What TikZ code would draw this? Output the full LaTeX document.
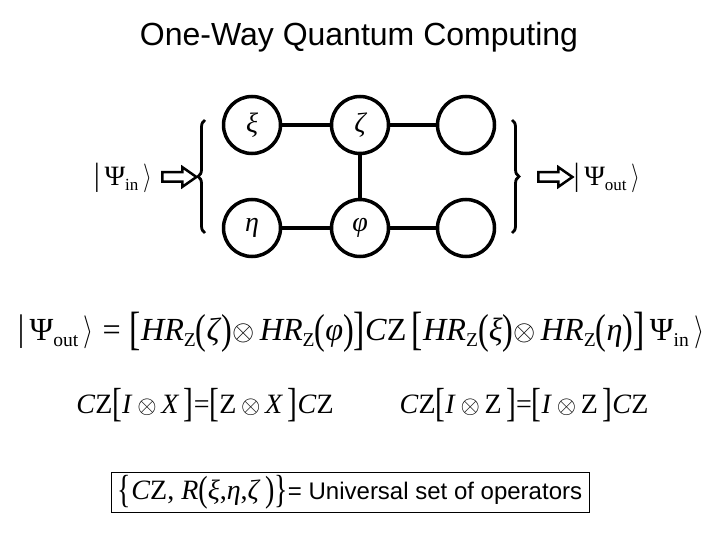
\documentclass[tikz,border=0pt]{standalone}
\usepackage{fontspec}
\setmainfont{Liberation Serif}
\newfontfamily\sansfnt{Liberation Sans}
\usepackage{graphicx}
\usetikzlibrary{shapes.arrows,decorations.pathreplacing}

\newcommand{\fs}[1]{\fontsize{#1}{#1}\selectfont}
\newcommand{\kbar}{\scalebox{1}[1.15]{|}}
\newcommand{\kang}{\scalebox{0.9}[1.15]{$\rangle$}}
\newcommand{\sbt}[1]{\raisebox{-5pt}{\fs{17}#1}}
\newcommand{\LB}{\raisebox{-3pt}{\scalebox{1.05}[1.45]{[}}}
\newcommand{\RB}{\raisebox{-3pt}{\scalebox{1.05}[1.45]{]}}}
\newcommand{\LP}{\raisebox{-2pt}{\scalebox{1}[1.3]{(}}}
\newcommand{\RP}{\raisebox{-2pt}{\scalebox{1}[1.3]{)}}}
\newcommand{\Ot}{$\otimes$}
\newcommand{\LC}{\raisebox{-3pt}{\scalebox{1}[1.4]{\{}}}
\newcommand{\RC}{\raisebox{-3pt}{\scalebox{1}[1.4]{\}}}}

\tikzset{
  qb/.style={circle, draw, line width=3.5pt, minimum size=57pt, inner sep=0pt,
    font=\fs{28}\itshape},
  bond/.style={line width=3.5pt},
  brc/.style={line width=2.8pt, decorate, decoration={brace, amplitude=7pt}},
  harrow/.style={single arrow, draw, line width=2.5pt, minimum height=34pt,
    inner sep=3.5pt, single arrow head extend=5pt, single arrow tip angle=70},
  eq/.style={inner sep=0pt, font=\fs{28}},
}

\begin{document}
\begin{tikzpicture}[x=1pt,y=-1pt]
\useasboundingbox (0,0) rectangle (720,540);

\node[font=\sansfnt\fs{32}] (title) at (359,37) {One-Way Quantum Computing};

% cluster state
\node[qb] (a1) at (252,125) {ξ};
\node[qb] (a2) at (360,125) {ζ};
\node[qb] (a3) at (466,125) {};
\node[qb] (b1) at (252,228) {η};
\node[qb] (b2) at (360,228) {φ};
\node[qb] (b3) at (466,228) {};
\draw[bond] (a1) -- (a2);
\draw[bond] (a2) -- (a3);
\draw[bond] (b1) -- (b2);
\draw[bond] (b2) -- (b3);
\draw[bond] (a2) -- (b2);

% braces
\coordinate (lb1) at (205,233);
\coordinate (lb2) at (205,120);
\coordinate (rb1) at (512,120);
\coordinate (rb2) at (512,233);
\draw[brc] (lb1) -- (lb2);
\draw[brc] (rb1) -- (rb2);

% arrows
\node[harrow] (arL) at (176,177) {};
\node[harrow] (arR) at (552,177) {};

% kets
\node[eq] (kin) at (123,178) {\kbar\,Ψ\sbt{in}\,\kang};
\node[eq] (kout) at (607,178) {\kbar\,Ψ\sbt{out}\,\kang};

% equations
\node[eq] (eq1) at (361,332) {\scalebox{1.15}{\kbar\,Ψ\sbt{out}\,\kang\;=\;\LB\textit{HR}\sbt{Z}\LP\textit{ζ}\RP\Ot\,\textit{HR}\sbt{Z}\LP\textit{φ}\RP\RB\textit{C}Z\,\LB\textit{HR}\sbt{Z}\LP\textit{ξ}\RP\Ot\,\textit{HR}\sbt{Z}\LP\textit{η}\RP\RB\,Ψ\sbt{in}\,\kang}};

\node[eq] (eq2a) at (205,405) {\textit{C}Z\LB\textit{I}\,\Ot\,\textit{X}\,\RB=\LB Z\,\Ot\,\textit{X}\,\RB\textit{C}Z};
\node[eq] (eq2b) at (524,405) {\textit{C}Z\LB\textit{I}\,\Ot\,Z\,\RB=\LB\textit{I}\,\Ot\,Z\,\RB\textit{C}Z};

\node[draw, line width=1pt, minimum width=478pt, minimum height=40pt, inner sep=0pt] (box) at (350,492) {};
\node[eq] (eq3) at (350,492) {\LC\textit{C}Z, \textit{R}\LP\textit{ξ},\textit{η},\textit{ζ}\,\RP\RC{\sansfnt\fs{24}= Universal set of operators}};
\end{tikzpicture}
\end{document}
